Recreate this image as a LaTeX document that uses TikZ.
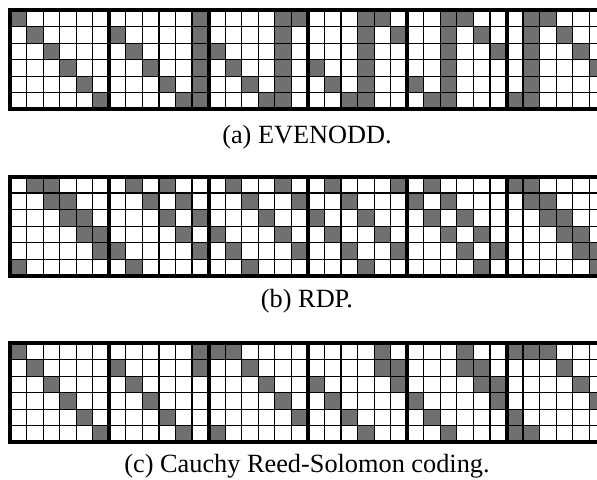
\documentclass[tikz,border=0pt]{standalone}
\usepackage{fontspec}
\setmainfont{Liberation Serif}
\usepackage{tikz}

\definecolor{bitgray}{RGB}{112,112,112}

% cell size and left edge of the grids
\newcommand{\cw}{16.55}
\newcommand{\gx}{10}

% one row of six 6x6 bit matrices, top edge at #1, gray cells block/row/col in #2
\newcommand{\bitmatrix}[2]{%
  \foreach \b/\r/\c in {#2}
    \fill[bit] ({\gx+(6*\b+\c)*\cw},{#1+\r*\cw}) rectangle ++(\cw,\cw);
  \foreach \i in {0,...,36}
    \draw[cellline] ({\gx+\i*\cw},#1) -- ++(0,6*\cw);
  \foreach \j in {0,...,6}
    \draw[cellline] (\gx,{#1+\j*\cw}) -- ++(36*\cw,0);
  \foreach \k in {0,...,6}
    \draw[blockline] ({\gx+6*\k*\cw},#1) -- ++(0,6*\cw);
  \draw[blockline] (\gx,#1) -- ++(36*\cw,0);
  \draw[blockline] (\gx,{#1+6*\cw}) -- ++(36*\cw,0);
}

\begin{document}
\begin{tikzpicture}[x=0.5pt, y=-0.5pt,
  bit/.style={fill=bitgray},
  cellline/.style={line width=0.6pt, line cap=rect},
  blockline/.style={line width=2pt, line cap=rect},
  caption/.style={anchor=base, inner sep=0pt, font=\fontsize{13.15}{15}\selectfont}
]
\useasboundingbox (0,0) rectangle (597,479);
\clip (0,0) rectangle (597,479);
\fill[white] (0,0) rectangle (597,479);

% EVENODD
\bitmatrix{10}{0/0/0,0/1/1,0/2/2,0/3/3,0/4/4,0/5/5,
  1/0/5,1/1/0,1/1/5,1/2/1,1/2/5,1/3/2,1/3/5,1/4/3,1/4/5,1/5/4,1/5/5,
  2/0/4,2/0/5,2/1/4,2/2/0,2/2/4,2/3/1,2/3/4,2/4/2,2/4/4,2/5/3,2/5/4,
  3/0/3,3/0/4,3/1/3,3/1/5,3/2/3,3/3/0,3/3/3,3/4/1,3/4/3,3/5/2,3/5/3,
  4/0/2,4/0/3,4/1/2,4/1/4,4/2/2,4/2/5,4/3/2,4/4/0,4/4/2,4/5/1,4/5/2,
  5/0/1,5/0/2,5/1/1,5/1/3,5/2/1,5/2/4,5/3/1,5/3/5,5/4/1,5/5/0,5/5/1}
\node[caption] (capa) at (307,143) {(a) EVENODD.};

% RDP
\bitmatrix{176.5}{0/0/1,0/0/2,0/1/2,0/1/3,0/2/3,0/2/4,0/3/4,0/3/5,0/4/5,0/5/0,
  1/0/1,1/0/3,1/1/2,1/1/4,1/2/3,1/2/5,1/3/4,1/4/0,1/4/5,1/5/1,
  2/0/1,2/0/4,2/1/2,2/1/5,2/2/3,2/3/0,2/3/4,2/4/1,2/4/5,2/5/2,
  3/0/1,3/0/5,3/1/2,3/2/0,3/2/3,3/3/1,3/3/4,3/4/2,3/4/5,3/5/3,
  4/0/1,4/1/0,4/1/2,4/2/1,4/2/3,4/3/2,4/3/4,4/4/3,4/4/5,4/5/4,
  5/0/0,5/0/1,5/1/1,5/1/2,5/2/2,5/2/3,5/3/3,5/3/4,5/4/4,5/4/5,5/5/5}
\node[caption] (capb) at (307,307.5) {(b) RDP.};

% Cauchy Reed-Solomon
\bitmatrix{343}{0/0/0,0/1/1,0/2/2,0/3/3,0/4/4,0/5/5,
  1/0/5,1/1/0,1/1/5,1/2/1,1/3/2,1/4/3,1/5/4,
  2/0/0,2/0/1,2/1/2,2/2/3,2/3/4,2/4/5,2/5/0,
  3/0/4,3/1/4,3/1/5,3/2/0,3/2/5,3/3/1,3/4/2,3/5/3,
  4/0/3,4/1/3,4/1/4,4/2/4,4/2/5,4/3/0,4/3/5,4/4/1,4/5/2,
  5/0/0,5/0/1,5/0/2,5/1/3,5/2/4,5/3/5,5/4/0,5/5/0,5/5/1}
\node[caption] (capc) at (307,472) {(c) Cauchy Reed-Solomon coding.};
\end{tikzpicture}
\end{document}
